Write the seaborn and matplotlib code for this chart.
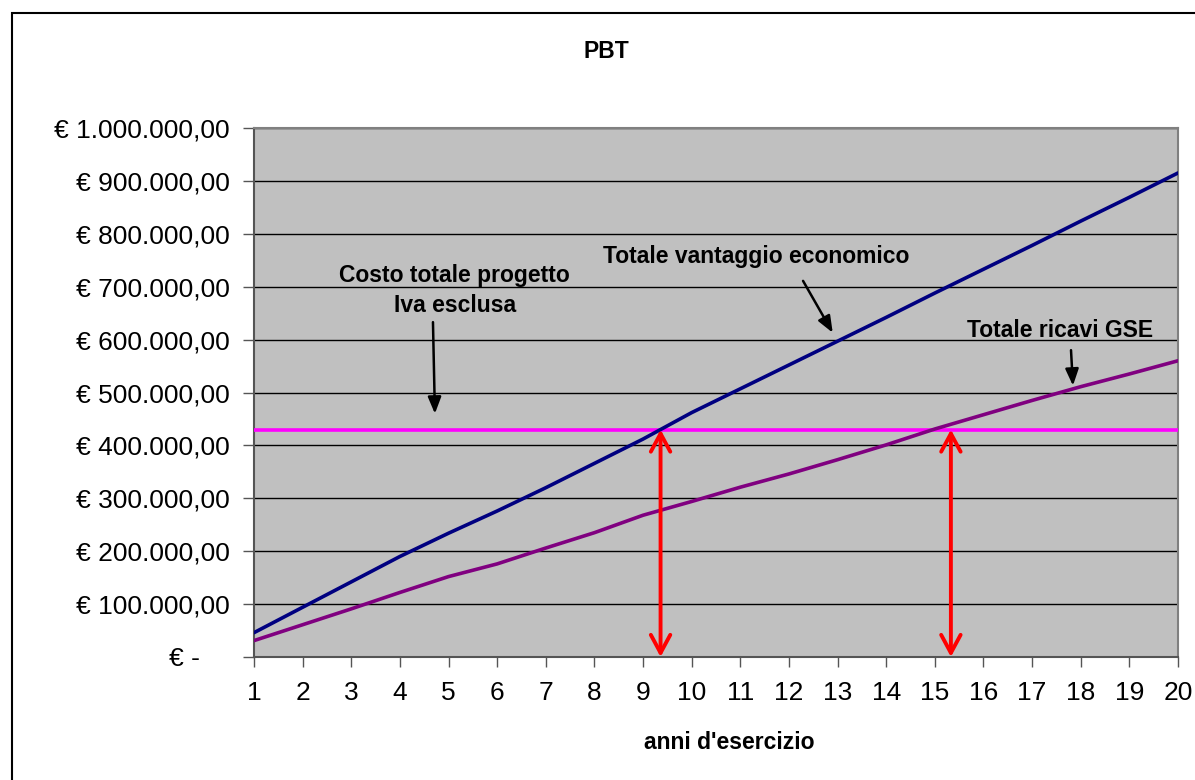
import matplotlib
matplotlib.use("Agg")
import matplotlib.pyplot as plt
import seaborn as sns
import numpy as np
import pandas as pd
from matplotlib.patches import Rectangle

# DATA

anni = list(range(1, 21))
vantaggio = [46000, 94000, 142000, 190000, 234000, 276000, 320000, 366000, 412000, 462000,
             507000, 552000, 597000, 642000, 688000, 733000, 778000, 824000, 869000, 915000]
ricavi = [31000, 61000, 91000, 122000, 152000, 176000, 206000, 235000, 268000, 294000,
          321000, 346000, 373000, 401000, 431000, 458000, 485000, 511000, 535000, 560000]
costo = [430000] * 20
frecce_x = [9.36, 15.33]
y_ticks = list(range(0, 1000001, 100000))

# STYLE

sns.set_style("white")
plt.rcParams['font.family'] = ['Liberation Sans', 'DejaVu Sans']
plt.rcParams['text.color'] = 'black'
plt.rcParams['xtick.color'] = 'black'
plt.rcParams['ytick.color'] = 'black'
plt.rcParams['axes.labelcolor'] = 'black'


def euro(v):
    if v == 0:
        return "€ -    "
    return "€ " + f"{v:,.2f}".replace(",", "X").replace(".", ",").replace("X", ".")


fig = plt.figure(figsize=(11.95, 7.8), dpi=100)
ax = fig.add_axes([254 / 1195, 1 - 657 / 780, (1178 - 254) / 1195, (657 - 128) / 780])
ax.set_facecolor("#C0C0C0")

## frame round the whole chart
fig.patches.append(Rectangle((12 / 1195, -0.01), 1.02, 1 - 13 / 780 + 0.01,
                             transform=fig.transFigure, fill=False, ec="black", lw=1.5))

df = pd.DataFrame({"anni": anni, "vantaggio": vantaggio, "ricavi": ricavi, "costo": costo})

sns.lineplot(data=df, x="anni", y="costo", color="#FF00FF", lw=2.6, ax=ax, zorder=3)
sns.lineplot(data=df, x="anni", y="ricavi", color="#800080", lw=2.6, ax=ax, zorder=4)
sns.lineplot(data=df, x="anni", y="vantaggio", color="#000080", lw=2.6, ax=ax, zorder=5)

ax.set_xlim(1, 20)
ax.set_ylim(0, 1000000)
ax.set_xticks(anni)
ax.set_yticks(y_ticks)
ax.set_yticklabels([euro(v) for v in y_ticks])
ax.yaxis.grid(True, color="black", lw=1)
ax.set_axisbelow(True)
ax.tick_params(axis="y", length=8, width=1, color="#555555", labelsize=19, pad=9.5, direction="out", left=True)
ax.tick_params(axis="x", length=7, width=1, color="#555555", labelsize=19, pad=10, direction="out", bottom=True)
for s in ax.spines.values():
    s.set_color("#808080")
    s.set_linewidth(1.5)
ax.spines["left"].set_color("#555555")
ax.spines["bottom"].set_color("#555555")

ax.set_xlabel("anni d'esercizio", fontsize=16.5, fontweight="bold")
ax.xaxis.set_label_coords((729 - 254) / 924, -(731 - 657) / 529)
ax.set_ylabel("")
fig.text(606 / 1195, 1 - 51 / 780, "PBT", fontsize=16.5, fontweight="bold", ha="center", va="center")

# RED ARROWS

for fx in frecce_x:
    ax.annotate("", xy=(fx, 0), xytext=(fx, costo[0]),
                arrowprops=dict(arrowstyle="<->,head_length=0.65,head_width=0.35", color="#FF0000",
                                lw=2.8, mutation_scale=20, shrinkA=0, shrinkB=0),
                annotation_clip=False, zorder=6)

# LABELS

lab = dict(fontsize=16.5, fontweight="bold", ha="center", va="center")
ax.text(11.32, 758000, "Totale vantaggio economico", **lab)
ax.text(5.13, 722000, "Costo totale progetto", **lab)
ax.text(5.13, 665000, "Iva esclusa", **lab)
ax.text(17.57, 618000, "Totale ricavi GSE", **lab)

arr = dict(arrowstyle="-|>,head_length=0.5,head_width=0.2", color="black", lw=1.8,
           mutation_scale=20, shrinkA=0, shrinkB=0)
ax.annotate("", xy=(12.9, 613000), xytext=(12.29, 711000), arrowprops=arr)
ax.annotate("", xy=(4.72, 460000), xytext=(4.68, 633000), arrowprops=arr)
ax.annotate("", xy=(17.84, 513000), xytext=(17.8, 580000), arrowprops=arr)

plt.savefig("out.png", dpi=100)
